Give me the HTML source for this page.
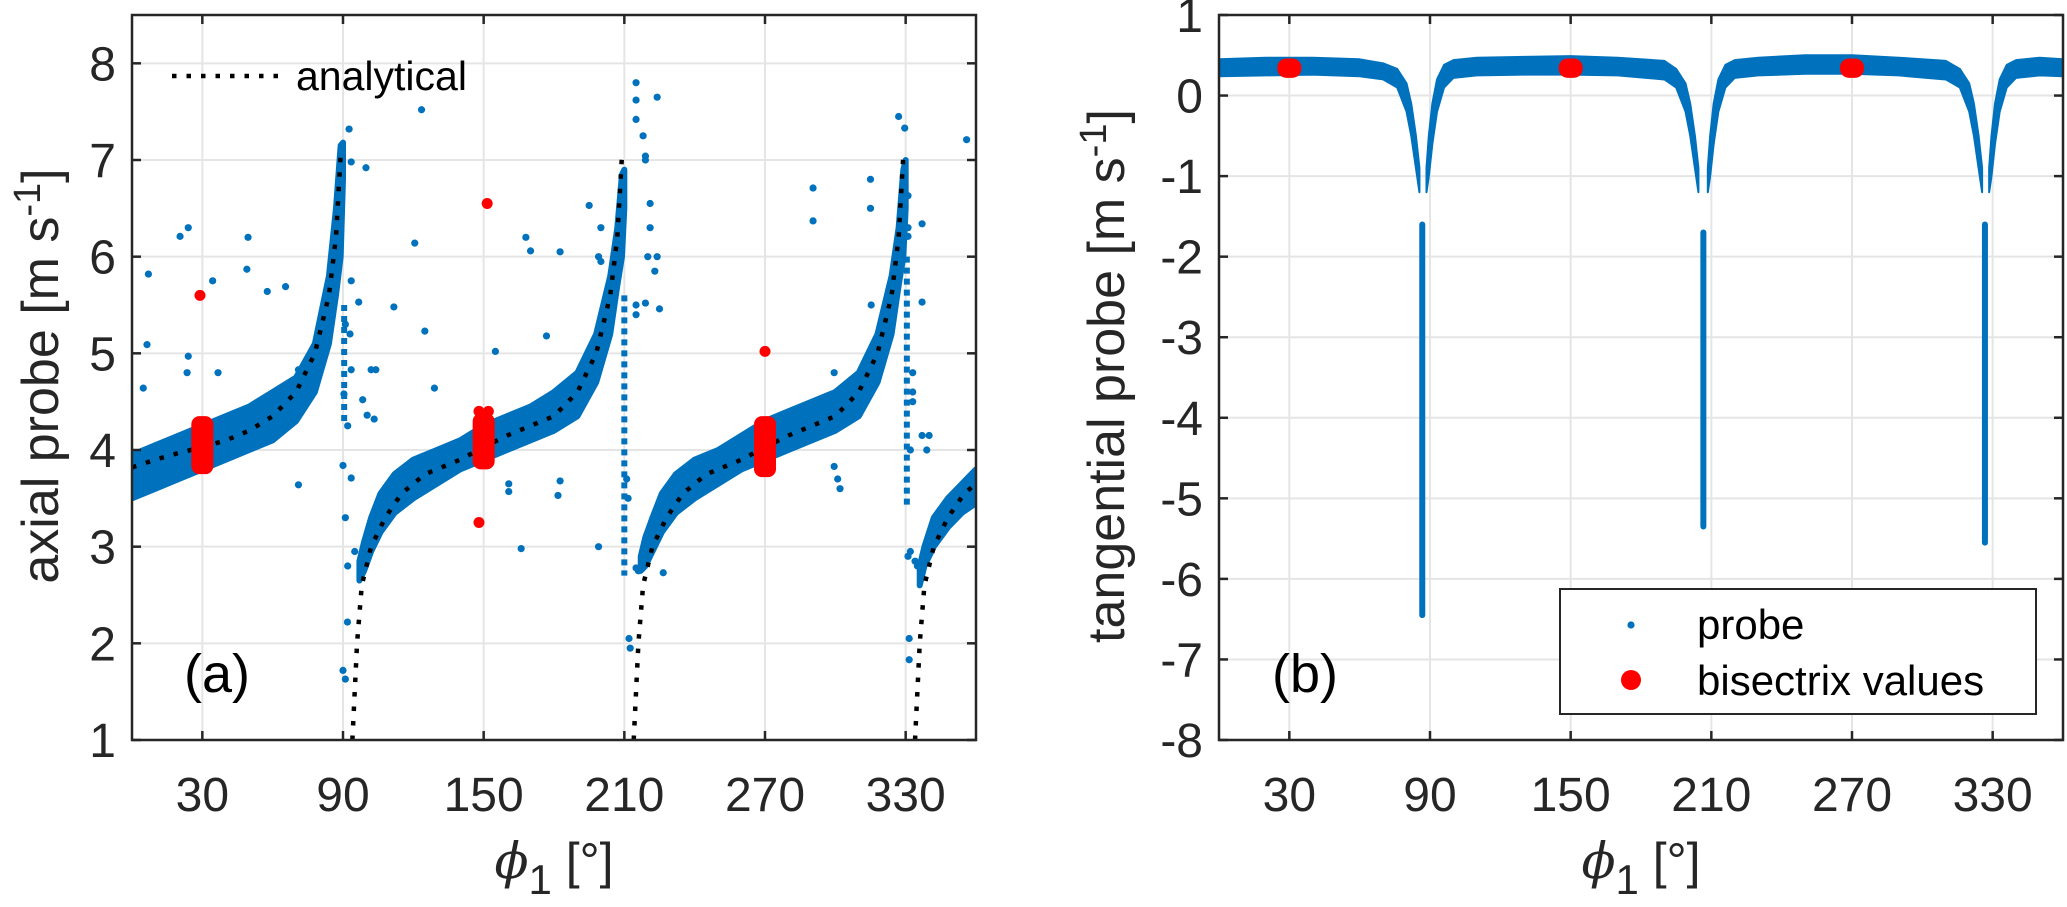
<!DOCTYPE html>
<html><head><meta charset="utf-8"><style>
html,body{margin:0;padding:0;background:#fff;}
svg{display:block;font-family:"Liberation Sans",sans-serif;}
</style></head><body>
<svg id="fig" width="2067" height="907" viewBox="0 0 2067 907">
<g id="pa"></g>
<g id="pb"></g>
</svg>
<script>
// ---------- Panel (a) data ----------
const aXTicks = [30, 90, 150, 210, 270, 330];
const aYTicks = [1, 2, 3, 4, 5, 6, 7, 8];
const anPhi1 = [0, 10, 20, 30, 40, 50, 60, 70, 78, 84, 87, 89];
const anVal1 = [3.82, 3.9, 3.97, 4.03, 4.1, 4.2, 4.35, 4.6, 5.0, 5.6, 6.2, 7.05];
const anPhi2 = [94, 96, 98, 102, 108, 115, 125, 140, 150, 160, 170, 180, 190, 198, 204, 207, 209];
const anVal2 = [1.0, 2.0, 2.6, 3.0, 3.3, 3.55, 3.75, 3.9, 4.03, 4.15, 4.25, 4.35, 4.6, 5.0, 5.6, 6.2, 7.05];
const anPhi3 = [214, 216, 218, 222, 228, 235, 245, 260, 270, 280, 290, 300, 310, 318, 324, 327, 329];
const anVal3 = [1.0, 2.0, 2.6, 3.0, 3.3, 3.55, 3.75, 3.9, 4.03, 4.15, 4.25, 4.35, 4.6, 5.0, 5.6, 6.2, 7.05];
const anPhi4 = [334, 336, 338, 342, 348, 355, 360];
const anVal4 = [1.0, 2.0, 2.6, 3.0, 3.3, 3.55, 3.65];
const bPhi1 = [0, 10, 20, 30, 40, 50, 60, 70, 78, 84, 87, 89, 90];
const bLo1 = [3.5, 3.6, 3.7, 3.8, 3.9, 4.0, 4.1, 4.3, 4.6, 5.1, 5.6, 6.0, 6.8];
const bHi1 = [3.95, 4.05, 4.15, 4.25, 4.35, 4.45, 4.6, 4.75, 5.1, 5.8, 6.5, 7.15, 7.18];
const bPhi2 = [97, 99, 102, 106, 112, 120, 130, 140, 150, 160, 170, 180, 190, 198, 204, 207, 209, 210];
const bLo2 = [2.65, 2.75, 2.95, 3.15, 3.35, 3.5, 3.65, 3.8, 3.9, 4.0, 4.1, 4.2, 4.35, 4.7, 5.2, 5.7, 6.0, 6.5];
const bHi2 = [2.85, 3.05, 3.3, 3.55, 3.75, 3.9, 4.0, 4.1, 4.25, 4.35, 4.45, 4.6, 4.8, 5.2, 5.8, 6.3, 6.85, 6.9];
const bPhi3 = [217, 219, 222, 226, 232, 240, 250, 260, 270, 280, 290, 300, 310, 318, 324, 327, 329, 330];
const bLo3 = [2.75, 2.8, 2.95, 3.15, 3.35, 3.5, 3.65, 3.8, 3.9, 4.0, 4.1, 4.2, 4.35, 4.7, 5.2, 5.7, 6.0, 6.5];
const bHi3 = [2.9, 3.1, 3.3, 3.55, 3.75, 3.9, 4.0, 4.15, 4.3, 4.4, 4.5, 4.6, 4.8, 5.2, 5.8, 6.3, 6.9, 7.0];
const bPhi4 = [336, 338, 342, 348, 354, 360];
const bLo4 = [2.6, 2.8, 3.0, 3.2, 3.35, 3.45];
const bHi4 = [2.8, 3.0, 3.3, 3.5, 3.65, 3.8];
const aStreakPhi = [90.5, 210, 330.5];
const aStreakTop = [5.5, 5.6, 6.0];
const aStreakBot = [4.3, 2.7, 3.4];
const aOutPhi = [7, 6.4, 4.8, 20.5, 24, 24, 23.5, 34.4, 36.7, 49.5, 49, 57.7, 65.5, 71, 71, 92.6, 93.5, 99.8, 93.5, 91, 93, 96.7, 93.5, 98.4, 100.3, 103.3, 102, 104, 90.4, 92, 90, 93.5, 91.9, 90, 91, 91, 92, 95, 123.5, 120.6, 111.7, 124.9, 129, 155, 166, 168, 170, 182.6, 176.8, 182.6, 181.7, 160.7, 160.7, 199, 195, 200, 199, 200, 215, 215, 215, 218, 219, 219, 224, 221, 221, 220, 224, 223, 215, 215, 219, 225, 211, 211.6, 216, 215, 226.6, 212, 212.5, 327, 329.6, 356, 290.5, 290.5, 315, 315, 331, 337, 331, 331, 337, 315.3, 333, 299.5, 301, 302, 299.5, 333, 333, 337, 332, 339, 340, 331.5, 331.5, 331, 332, 334, 335];
const aOutVal = [5.82, 5.09, 4.64, 6.21, 6.3, 4.97, 4.8, 5.75, 4.8, 6.2, 5.87, 5.64, 5.69, 4.83, 3.64, 7.32, 6.98, 6.92, 5.75, 5.3, 5.2, 5.53, 4.83, 4.52, 4.36, 4.32, 4.83, 4.83, 4.58, 4.25, 3.84, 3.71, 2.22, 1.72, 1.63, 3.3, 2.8, 2.95, 7.52, 6.14, 5.48, 5.23, 4.64, 5.02, 2.98, 6.2, 6.06, 6.05, 5.18, 3.68, 3.53, 3.65, 3.57, 3.0, 6.53, 6.3, 6.0, 5.95, 7.8, 7.62, 7.42, 7.25, 7.04, 7.0, 7.65, 6.55, 6.3, 6.0, 6.0, 5.85, 5.5, 5.4, 5.52, 5.46, 3.7, 3.5, 2.75, 2.78, 2.73, 2.05, 1.95, 7.45, 7.33, 7.21, 6.71, 6.37, 6.8, 6.5, 6.63, 6.34, 6.21, 6.3, 5.53, 5.5, 4.8, 4.8, 3.7, 3.6, 3.83, 4.5, 4.6, 4.15, 4.0, 4.0, 4.15, 2.05, 1.83, 2.9, 2.95, 2.85, 2.8];
const aRedPhi = [30, 150, 270];
const aRedLo = [3.75, 3.8, 3.72];
const aRedHi = [4.35, 4.38, 4.35];
const aRedOutPhi = [29, 151.5, 148, 148, 152, 270];
const aRedOutVal = [5.6, 6.55, 3.25, 4.4, 4.4, 5.02];

// ---------- Panel (b) data ----------
const bXTicks = [30, 90, 150, 210, 270, 330];
const bYTicks = [1, 0, -1, -2, -3, -4, -5, -6, -7, -8];
const tPhiA = [0, 20, 40, 60, 70, 76, 80, 82, 84, 85.5];
const tLoA = [0.24, 0.25, 0.26, 0.24, 0.2, 0.1, -0.2, -0.5, -0.9, -1.2];
const tHiA = [0.45, 0.47, 0.47, 0.45, 0.4, 0.33, 0.15, -0.1, -0.5, -0.9];
const tPhiB = [88.5, 89.5, 91, 93, 96, 100, 110, 130, 150, 170, 190, 195, 199, 201, 203, 204.5];
const tLoB = [-1.2, -1.0, -0.6, -0.2, 0.1, 0.22, 0.25, 0.26, 0.26, 0.25, 0.2, 0.1, -0.2, -0.5, -0.9, -1.2];
const tHiB = [-0.9, -0.5, -0.1, 0.2, 0.38, 0.44, 0.47, 0.48, 0.49, 0.47, 0.43, 0.33, 0.15, -0.1, -0.5, -0.9];
const tPhiC = [208.5, 209.5, 211, 213, 216, 220, 230, 250, 270, 290, 310, 316, 320, 322, 324, 325.5];
const tLoC = [-1.2, -1.0, -0.6, -0.2, 0.1, 0.22, 0.25, 0.27, 0.27, 0.25, 0.2, 0.1, -0.2, -0.5, -0.9, -1.2];
const tHiC = [-0.9, -0.5, -0.1, 0.2, 0.38, 0.44, 0.47, 0.5, 0.5, 0.47, 0.43, 0.33, 0.15, -0.1, -0.5, -0.9];
const tPhiD = [328.5, 329.5, 331, 333, 336, 340, 350, 360];
const tLoD = [-1.2, -1.0, -0.6, -0.2, 0.1, 0.22, 0.25, 0.24];
const tHiD = [-0.9, -0.5, -0.1, 0.2, 0.38, 0.44, 0.47, 0.45];
const tStreakPhi = [86.7, 206.6, 326.7];
const tStreakTop = [-1.6, -1.7, -1.6];
const tStreakBot = [-6.45, -5.35, -5.55];
const tRedPhi = [30, 150, 270];
const tRedLo = [0.22, 0.22, 0.22];
const tRedHi = [0.46, 0.46, 0.46];

const NS = "http://www.w3.org/2000/svg";
const BLUE = "#0072BD", RED = "#FF0000", AX = "#262626", GRID = "#e5e5e5";
function mk(tag, attrs, parent) {
  const e = document.createElementNS(NS, tag);
  for (const k in attrs) e.setAttribute(k, attrs[k]);
  parent.appendChild(e);
  return e;
}
function axesFrame(g, L, T, W, H, X, Y, xt, yt, prefix) {
  const grid = mk("g", {}, g);
  
  
  xt.forEach(v => mk("line", {x1: X(v), x2: X(v), y1: T, y2: T + H, stroke: GRID, "stroke-width": 2}, grid));
  yt.forEach(v => mk("line", {x1: L, x2: L + W, y1: Y(v), y2: Y(v), stroke: GRID, "stroke-width": 2}, grid));
}
function axesBox(g, L, T, W, H, X, Y, xt, yt, prefix) {
  const box = mk("rect", {x: L, y: T, width: W, height: H, fill: "none", stroke: AX, "stroke-width": 2.5}, g);
  
  
  const tk = mk("g", {stroke: AX, "stroke-width": 2.5}, g);
  xt.forEach(v => {
    mk("line", {x1: X(v), x2: X(v), y1: T + H, y2: T + H - 9}, tk);
    mk("line", {x1: X(v), x2: X(v), y1: T, y2: T + 9}, tk);
  });
  yt.forEach(v => {
    mk("line", {x1: L, x2: L + 9, y1: Y(v), y2: Y(v)}, tk);
    mk("line", {x1: L + W, x2: L + W - 9, y1: Y(v), y2: Y(v)}, tk);
  });
  const xl = mk("g", {fill: AX, "font-size": 48, "text-anchor": "middle"}, g);
  
  
  xt.forEach(v => { const t = mk("text", {x: X(v), y: 811}, xl); t.textContent = v; });
  const yl = mk("g", {fill: AX, "font-size": 48, "text-anchor": "end"}, g);
  
  
  yt.forEach(v => { const t = mk("text", {x: L - 16, y: Y(v) + 17}, yl); t.textContent = v; });
}
function band(g, phis, lo, hi, X, Y, fill, sw) {
  let d = "";
  phis.forEach((p, i) => { d += (i ? "L" : "M") + X(p) + "," + Y(hi[i]); });
  for (let i = phis.length - 1; i >= 0; i--) d += "L" + X(phis[i]) + "," + Y(lo[i]);
  d += "Z";
  return mk("path", {d: d, fill: fill, stroke: fill, "stroke-width": sw, "stroke-linejoin": "round"}, g);
}
function line(g, phis, vals, X, Y, attrs) {
  let d = "";
  phis.forEach((p, i) => { d += (i ? "L" : "M") + X(p) + "," + Y(vals[i]); });
  const a = Object.assign({d: d, fill: "none"}, attrs);
  return mk("path", a, g);
}
function xlabel(g, cx, prefix) {
  const t = mk("text", {x: cx, y: 878, "font-size": 50, fill: AX, "text-anchor": "middle"}, g);
  
  
  t.innerHTML = '<tspan font-family="DejaVu Serif, serif" font-style="italic">ϕ</tspan><tspan font-size="42" dy="16">1</tspan><tspan dy="-16"> [°]</tspan>';
}

// ---------- Panel (a) ----------
(function () {
  const g = document.getElementById("pa");
  const L = 132, T = 15, W = 844, H = 725;
  const X = p => L + p * W / 360;
  const Y = v => T + (8.5 - v) * H / 7.5;
  axesFrame(g, L, T, W, H, X, Y, aXTicks, aYTicks, "panel-a");
  const clip = mk("clipPath", {id: "ca"}, g);
  mk("rect", {x: L, y: T, width: W, height: H}, clip);
  const d = mk("g", {"clip-path": "url(#ca)"}, g);
  const probe = mk("g", {}, d);
  
  
  [[bPhi1, bLo1, bHi1], [bPhi2, bLo2, bHi2], [bPhi3, bLo3, bHi3], [bPhi4, bLo4, bHi4]].forEach(s => band(probe, s[0], s[1], s[2], X, Y, BLUE, 6));
  aStreakPhi.forEach((p, i) => mk("line", {x1: X(p), x2: X(p), y1: Y(aStreakTop[i]), y2: Y(aStreakBot[i]), stroke: BLUE, "stroke-width": 6, "stroke-dasharray": "6 5"}, probe));
  aOutPhi.forEach((p, i) => mk("circle", {cx: X(p), cy: Y(aOutVal[i]), r: 3.6, fill: BLUE}, probe));
  const an = mk("g", {}, d);
  
  
  [[anPhi1, anVal1], [anPhi2, anVal2], [anPhi3, anVal3], [anPhi4, anVal4]].forEach(s =>
    line(an, s[0], s[1], X, Y, {stroke: "#000", "stroke-width": 4.5, "stroke-dasharray": "4.5 10"}));
  const red = mk("g", {}, d);
  
  
  aRedPhi.forEach((p, i) => mk("rect", {x: X(p) - 11, y: Y(aRedHi[i]), width: 22, height: Y(aRedLo[i]) - Y(aRedHi[i]), rx: 8, fill: RED}, red));
  aRedOutPhi.forEach((p, i) => mk("circle", {cx: X(p), cy: Y(aRedOutVal[i]), r: 5.5, fill: RED}, red));
  axesBox(g, L, T, W, H, X, Y, aXTicks, aYTicks, "panel-a");
  const lg = mk("g", {}, g);
  
  
  mk("line", {x1: 172, x2: 282, y1: 76, y2: 76, stroke: "#000", "stroke-width": 4.5, "stroke-dasharray": "4.5 10"}, lg);
  const lt = mk("text", {x: 296, y: 90, "font-size": 41, fill: "#000"}, lg);
  lt.textContent = "analytical";
  const pa = mk("text", {x: 184, y: 692, "font-size": 54, fill: "#000"}, g);
  
  
  pa.textContent = "(a)";
  const yt = mk("text", {transform: "translate(58,376) rotate(-90)", "font-size": 52, fill: AX, "text-anchor": "middle"}, g);
  
  
  yt.innerHTML = 'axial probe [m s<tspan font-size="38" dy="-18">-1</tspan><tspan dy="18">]</tspan>';
  xlabel(g, 554, "panel-a");
})();

// ---------- Panel (b) ----------
(function () {
  const g = document.getElementById("pb");
  const L = 1219, T = 15, W = 844, H = 725;
  const X = p => L + p * W / 360;
  const Y = v => T + (1 - v) * H / 9;
  axesFrame(g, L, T, W, H, X, Y, bXTicks, bYTicks, "panel-b");
  const clip = mk("clipPath", {id: "cb"}, g);
  mk("rect", {x: L, y: T, width: W, height: H}, clip);
  const d = mk("g", {"clip-path": "url(#cb)"}, g);
  const probe = mk("g", {}, d);
  
  
  [[tPhiA, tLoA, tHiA], [tPhiB, tLoB, tHiB], [tPhiC, tLoC, tHiC], [tPhiD, tLoD, tHiD]].forEach(s => band(probe, s[0], s[1], s[2], X, Y, BLUE, 2));
  tStreakPhi.forEach((p, i) => {
    mk("line", {x1: X(p), x2: X(p), y1: Y(tStreakTop[i]), y2: Y(tStreakBot[i]), stroke: BLUE, "stroke-width": 6, "stroke-linecap": "round"}, probe);
  });
  const red = mk("g", {}, d);
  
  
  tRedPhi.forEach((p, i) => mk("rect", {x: X(p) - 12, y: Y(tRedHi[i]), width: 24, height: Y(tRedLo[i]) - Y(tRedHi[i]), rx: 9, fill: RED}, red));
  axesBox(g, L, T, W, H, X, Y, bXTicks, bYTicks, "panel-b");
  const lg = mk("g", {}, g);
  
  
  mk("rect", {x: 1560, y: 589, width: 476, height: 125, fill: "#fff", stroke: AX, "stroke-width": 2}, lg);
  mk("circle", {cx: 1631, cy: 625, r: 3.6, fill: BLUE}, lg);
  const t1 = mk("text", {x: 1697, y: 639, "font-size": 42, fill: "#000"}, lg);
  t1.textContent = "probe";
  mk("circle", {cx: 1631, cy: 680, r: 10, fill: RED}, lg);
  const t2 = mk("text", {x: 1697, y: 695, "font-size": 42, fill: "#000"}, lg);
  t2.textContent = "bisectrix values";
  const pb = mk("text", {x: 1272, y: 692, "font-size": 54, fill: "#000"}, g);
  
  
  pb.textContent = "(b)";
  const yt = mk("text", {transform: "translate(1124,376) rotate(-90)", "font-size": 52, fill: AX, "text-anchor": "middle"}, g);
  
  
  yt.innerHTML = 'tangential probe [m s<tspan font-size="38" dy="-18">-1</tspan><tspan dy="18">]</tspan>';
  xlabel(g, 1641, "panel-b");
})();
</script>
</body></html>
